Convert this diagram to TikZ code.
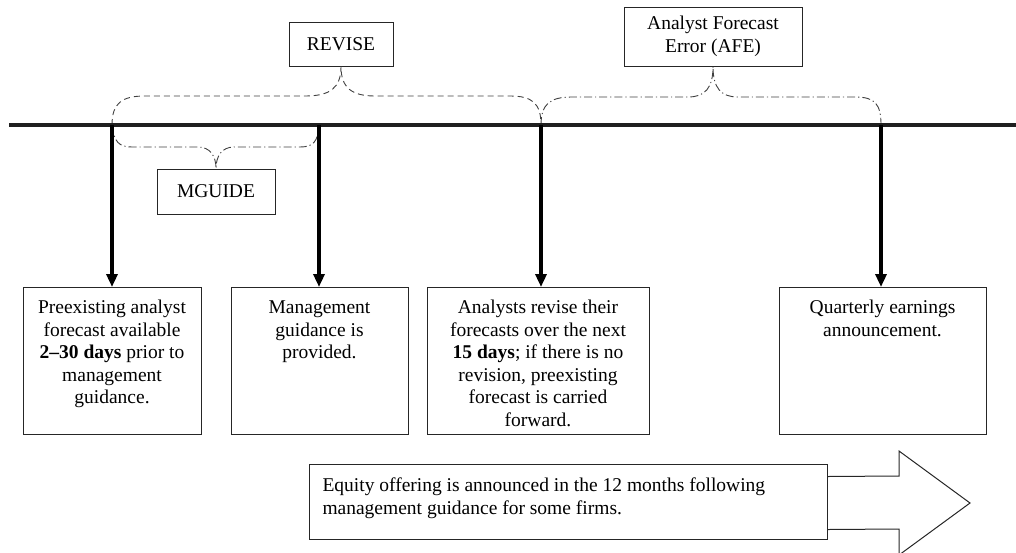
\documentclass[tikz,border=0pt]{standalone}
\usepackage{fontspec}
\setmainfont{Liberation Serif}
\usepackage{tikz}
\usetikzlibrary{arrows.meta, positioning}
\tikzstyle{event} = [rectangle, draw=black!85, line width=1pt, anchor=north, inner sep=0pt]
\tikzstyle{tag} = [rectangle, draw=black!85, line width=1pt, align=center, inner sep=0pt]
\tikzstyle{offer} = [rectangle, draw=black!85, line width=1pt, fill=white, anchor=north west, inner xsep=13pt, inner ysep=0pt]
\tikzstyle{timeline} = [line width=4.6pt, black!88]
\tikzstyle{arrow} = [line width=3.4pt, -{Triangle[length=13pt,width=11pt]}]
\tikzstyle{bracedash} = [line width=0.9pt, black!75, dash pattern=on 6pt off 4pt]
\tikzstyle{bracedot} = [line width=0.9pt, black!75, dash pattern=on 8pt off 3pt on 1.2pt off 3pt]
\tikzstyle{bigarrow} = [line width=1pt, draw=black!85]
\newcommand{\evbox}[2]{\parbox[t][147pt][t]{#1}{\centering\rule{0pt}{26pt}#2}}

\begin{document}
\begin{tikzpicture}[x=1pt, y=-1pt, every node/.style={font=\fontsize{19.5}{22.5}\selectfont}]
    \useasboundingbox (0,0) rectangle (1016,552);

    % timeline points
    \coordinate (lineL) at (9,125);
    \coordinate (lineR) at (1016,125);
    \coordinate (t1) at (112,125);
    \coordinate (t2) at (319,125);
    \coordinate (t3) at (541,125);
    \coordinate (t4) at (881,125);

    % labels above and below the line
    \node (revise) [tag, minimum width=104pt, minimum height=44pt] at (341,44) {REVISE};
    \node (afe) [tag, minimum width=178pt, minimum height=59pt] at (713,36.5) {Analyst Forecast\\Error (AFE)};
    \node (mguide) [tag, minimum width=118pt, minimum height=45pt] at (216,191.5) {MGUIDE};

    % event boxes
    \node (pre) [event] at (112,287) {\evbox{178pt}{Preexisting analyst\\forecast available\\\textbf{2--30 days} prior to\\management\\guidance.}};
    \node (mgmt) [event] at (319.5,287) {\evbox{177pt}{Management\\guidance is\\provided.}};
    \node (rev) [event] at (538,287) {\evbox{222pt}{Analysts revise their\\forecasts over the next\\\textbf{15 days}; if there is no\\revision, preexisting\\forecast is carried\\forward.}};
    \node (qea) [event] at (882.5,287) {\evbox{207pt}{Quarterly earnings\\announcement.}};

    % braces
    \draw [bracedash] (t1) .. controls (112,103) and (122,96) .. (145,96) -- (305,96)
        .. controls (330,96) and (341,88) .. (revise.south)
        .. controls (341,88) and (352,96) .. (375,96) -- (510,96)
        .. controls (532,96) and (541,103) .. (t3);
    \draw [bracedot] (t3) .. controls (541,104) and (550,97) .. (572,97) -- (688,97)
        .. controls (705,97) and (713,88) .. (afe.south)
        .. controls (713,88) and (721,97) .. (738,97) -- (855,97)
        .. controls (875,97) and (881,104) .. (t4);
    \draw [bracedot] (t1) .. controls (114,142) and (119,147) .. (132,147) -- (198,147)
        .. controls (210,147) and (216,156) .. (mguide.north)
        .. controls (216,156) and (222,147) .. (234,147) -- (300,147)
        .. controls (313,147) and (318,142) .. (t2);

    \draw [timeline] (lineL) -- (lineR);

    \draw [arrow] (t1) -- (t1 |- pre.north);
    \draw [arrow] (t2) -- (t2 |- mgmt.north);
    \draw [arrow] (t3) -- (t3 |- rev.north);
    \draw [arrow] (t4) -- (t4 |- qea.north);

    % equity offering arrow
    \node (equity) [offer] at (309,464) {\parbox[t][75pt][t]{492pt}{\raggedright\rule{0pt}{27pt}Equity offering is announced in the 12 months following\\management guidance for some firms.}};
    \draw [bigarrow] ([yshift=25.5pt]equity.east) -- (899,476) -- (899,451) -- (970,503)
        -- (899,555) -- (899,529) -- ([yshift=-27.5pt]equity.east);
\end{tikzpicture}
\end{document}
